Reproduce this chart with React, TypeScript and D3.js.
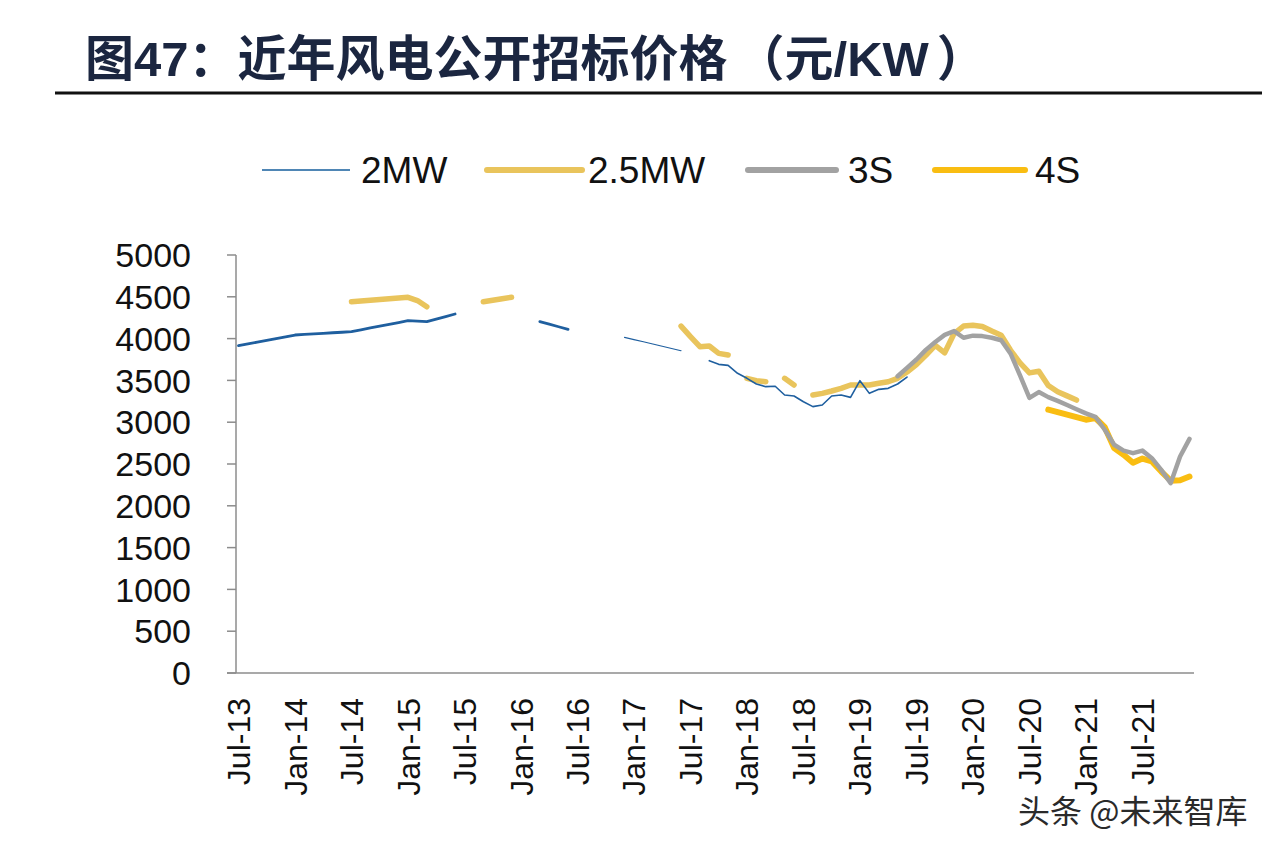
import React from "react";
import * as d3 from "d3";

// ---------- data ----------
const months: string[] = d3
  .timeMonth.range(new Date(2013, 6, 1), new Date(2022, 0, 1))
  .map(d3.timeFormat("%b-%y"));

const tickLabels = [
  "Jul-13", "Jan-14", "Jul-14", "Jan-15", "Jul-15", "Jan-16", "Jul-16", "Jan-17",
  "Jul-17", "Jan-18", "Jul-18", "Jan-19", "Jul-19", "Jan-20", "Jul-20", "Jan-21", "Jul-21",
];

const yTicks = [0, 500, 1000, 1500, 2000, 2500, 3000, 3500, 4000, 4500, 5000];

type Seg = { start: string; values: number[] };

const s2MW: Seg[] = [
  { start: "Jul-13", values: [3915, 3936, 3958, 3979, 4000, 4022, 4043, 4050, 4056, 4063, 4070, 4076, 4083, 4105, 4127, 4149, 4170, 4192, 4214, 4208, 4202, 4233, 4263, 4294] },
  { start: "Mar-16", values: [4202, 4172, 4142, 4111] },
  { start: "Dec-16", values: [4015, 3988, 3962, 3935, 3908, 3882, 3855] },
  { start: "Sep-17", values: [3736, 3692, 3680, 3585, 3525, 3457, 3425, 3430, 3325, 3313, 3245, 3186, 3206, 3313, 3325, 3297, 3497, 3345, 3393, 3405, 3457, 3540] },
];

const s25MW: Seg[] = [
  { start: "Jul-14", values: [4441, 4450, 4459, 4468, 4476, 4485, 4494, 4455, 4380] },
  { start: "Sep-15", values: [4441, 4459, 4477, 4494] },
  { start: "Jun-17", values: [4150, 4023, 3903, 3911, 3823, 3803] },
  { start: "Jan-18", values: [3525, 3497, 3484] },
  { start: "May-18", values: [3525, 3445] },
  { start: "Aug-18", values: [3325, 3345, 3373, 3405, 3445, 3445, 3445, 3465, 3484, 3525, 3600, 3690, 3800, 3920, 3830, 4060, 4150, 4160, 4145, 4090, 4040, 3860, 3710, 3590, 3610, 3440, 3365, 3315, 3265] },
];

const s3S: Seg[] = [
  { start: "May-19", values: [3550, 3650, 3750, 3865, 3960, 4045, 4090, 4010, 4035, 4030, 4010, 3980, 3820, 3560, 3290, 3360, 3300, 3255, 3205, 3155, 3105, 3065, 2910, 2730, 2660, 2630, 2660, 2570, 2430, 2270, 2590, 2800] },
];

const s4S: Seg[] = [
  { start: "Sep-20", values: [3150, 3120, 3090, 3060, 3030, 3050, 2940, 2690, 2610, 2515, 2565, 2530, 2410, 2300, 2305, 2350] },
];

// ---------- styles ----------
const C2MW = "#1f5f9f";
const C2MWLegend = "#4f86b5";
const C25MW = "#e9c45c";
const C3S = "#a2a2a2";
const C4S = "#f9bd12";
const w2MW = [2.8, 2.8, 1.2, 1.6];

const LATIN = "'Liberation Sans', Arial, 'Noto Sans CJK SC', sans-serif";

const x = d3.scalePoint<string>().domain(months).range([238.5, 1189.5]);
const y = d3.scaleLinear().domain([0, 5000]).range([673, 255]);

const line = d3
  .line<[string, number]>()
  .x((d) => x(d[0]) as number)
  .y((d) => y(d[1]));

function segPath(seg: Seg): string {
  const s = months.indexOf(seg.start);
  const pts: [string, number][] = seg.values.map((v, k) => [months[s + k], v]);
  return line(pts) || "";
}

export default function App() {
  const legend = [
    { label: "2MW", color: C2MWLegend, w: 2, x1: 262, x2: 350, tx: 361 },
    { label: "2.5MW", color: C25MW, w: 6, x1: 487, x2: 582, tx: 588 },
    { label: "3S", color: C3S, w: 6, x1: 748, x2: 836, tx: 848 },
    { label: "4S", color: C4S, w: 6, x1: 935, x2: 1025, tx: 1035 },
  ];
  return (
    <svg
      width={1274}
      height={850}
      style={{ position: "absolute", left: 0, top: 0, background: "#fff" }}
    >
      <rect x={0} y={0} width={1274} height={850} fill="#ffffff" />
      {/* title */}
      <text
        x={85}
        y={76}
        fontSize={49}
        fontWeight="bold"
        fill="#1b2640"
        fontFamily={LATIN}
      >
        <tspan>图47：近年风电公开招标价格</tspan>
        <tspan dx={8}>（元/KW</tspan>
        <tspan dx={8}>）</tspan>
      </text>
      <line x1={55} x2={1262} y1={93} y2={93} stroke="#111" strokeWidth={3} />

      {/* legend */}
      {legend.map((l) => (
        <g key={l.label}>
          <line
            x1={l.x1}
            x2={l.x2}
            y1={170}
            y2={170}
            stroke={l.color}
            strokeWidth={l.w}
            strokeLinecap={l.w > 3 ? "round" : "butt"}
          />
          <text x={l.tx} y={183} fontSize={37} fill="#111" fontFamily={LATIN}>
            {l.label}
          </text>
        </g>
      ))}

      {/* y axis */}
      <line x1={236} x2={236} y1={y(5000)} y2={y(0)} stroke="#8c8c8c" strokeWidth={1.5} />
      {yTicks.map((t) => (
        <g key={t}>
          <line x1={227} x2={236} y1={y(t)} y2={y(t)} stroke="#8c8c8c" strokeWidth={1.5} />
          <text
            x={191}
            y={y(t)}
            dy="0.36em"
            textAnchor="end"
            fontSize={34}
            fill="#111"
            fontFamily={LATIN}
          >
            {t}
          </text>
        </g>
      ))}

      {/* x axis */}
      <line x1={227} x2={1194} y1={y(0)} y2={y(0)} stroke="#8c8c8c" strokeWidth={1.5} />
      {tickLabels.map((lb) => (
        <text
          key={lb}
          transform={`translate(${x(lb)},698) rotate(-90)`}
          dy="0.36em"
          textAnchor="end"
          fontSize={32}
          fill="#111"
          fontFamily={LATIN}
        >
          {lb}
        </text>
      ))}

      {/* series */}
      <g fill="none" strokeLinejoin="round" strokeLinecap="round">
        {s4S.map((s, i) => (
          <path key={"4s" + i} d={segPath(s)} stroke={C4S} strokeWidth={6} />
        ))}
        {s25MW.map((s, i) => (
          <path key={"25" + i} d={segPath(s)} stroke={C25MW} strokeWidth={5.5} />
        ))}
        {s3S.map((s, i) => (
          <path key={"3s" + i} d={segPath(s)} stroke={C3S} strokeWidth={4.5} />
        ))}
        {s2MW.map((s, i) => (
          <path key={"2m" + i} d={segPath(s)} stroke={C2MW} strokeWidth={w2MW[i]} />
        ))}
      </g>

      {/* watermark */}
      <text
        x={1018}
        y={823}
        fontSize={32}
        fill="#2a2a2a"
        stroke="#ffffff"
        strokeWidth={3}
        paintOrder="stroke"
        fontFamily="'Noto Sans CJK SC', sans-serif"
      >
        头条 @未来智库
      </text>
    </svg>
  );
}
